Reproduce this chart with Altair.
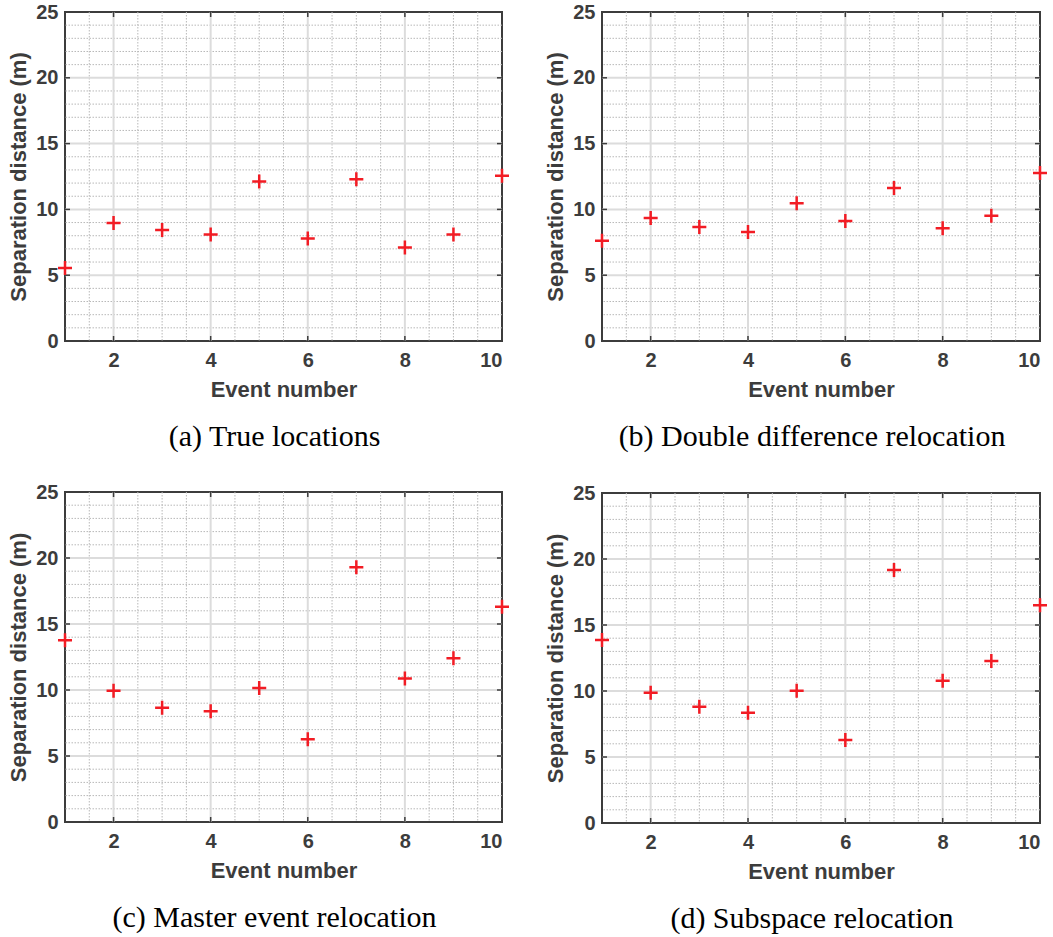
import altair as alt
import pandas as pd

# Event indices and separation distances (m) for each location method
events = [1, 2, 3, 4, 5, 6, 7, 8, 9, 10]
true_locations = [5.55, 8.97, 8.43, 8.10, 12.12, 7.78, 12.30, 7.10, 8.10, 12.55]
double_difference = [7.62, 9.35, 8.66, 8.28, 10.46, 9.12, 11.63, 8.56, 9.52, 12.77]
master_event = [13.76, 9.95, 8.66, 8.39, 10.15, 6.26, 19.30, 10.88, 12.40, 16.30]
subspace = [13.86, 9.87, 8.81, 8.36, 10.02, 6.29, 19.17, 10.78, 12.27, 16.50]

captions = [
    "(a) True locations",
    "(b) Double difference relocation",
    "(c) Master event relocation",
    "(d) Subspace relocation",
]

# Axis ticks and grid positions
x_ticks = [2, 4, 6, 8, 10]
y_ticks = [0, 5, 10, 15, 20, 25]
x_major_grid = [2, 4, 6, 8]
y_major_grid = [5, 10, 15, 20]
x_minor_grid = [1.5, 2.5, 3, 3.5, 4.5, 5, 5.5, 6.5, 7, 7.5, 8.5, 9, 9.5]
y_minor_grid = [1, 2, 3, 4, 6, 7, 8, 9, 11, 12, 13, 14, 16, 17, 18, 19, 21, 22, 23, 24]

X_DOMAIN = [1, 10]
Y_DOMAIN = [0, 25]

AXIS_GRAY = "#3c3c3c"
SANS = "Liberation Sans"
SERIF = "Liberation Serif"


def panel(values, caption, width, height):
    xs = alt.Scale(domain=X_DOMAIN, nice=False, zero=False)
    ys = alt.Scale(domain=Y_DOMAIN, nice=False)

    x_axis = alt.Axis(values=x_ticks, title="Event number", format="d",
                      labelPadding=9, titlePadding=9)
    y_axis = alt.Axis(values=y_ticks, title="Separation distance (m)", format="d",
                      labelPadding=7, titlePadding=5)

    def X(field):
        return alt.X(field, scale=xs, axis=x_axis)

    def Y(field):
        return alt.Y(field, scale=ys, axis=y_axis)

    pts = pd.DataFrame({"event": events, "dist": values})
    xmin = pd.DataFrame({"v": x_minor_grid})
    ymin = pd.DataFrame({"v": y_minor_grid})
    xmaj = pd.DataFrame({"v": x_major_grid})
    ymaj = pd.DataFrame({"v": y_major_grid})

    # tick tables: position along the axis and the edge of the box it sits on
    tb = pd.DataFrame({"v": x_major_grid, "e": Y_DOMAIN[0]})
    tt = pd.DataFrame({"v": x_major_grid, "e": Y_DOMAIN[1]})
    tl = pd.DataFrame({"v": y_major_grid, "e": X_DOMAIN[0]})
    tr = pd.DataFrame({"v": y_major_grid, "e": X_DOMAIN[1]})

    minor_x = alt.Chart(xmin).mark_rule(
        color="#b8b8b8", strokeWidth=1, strokeDash=[1.5, 1.5]
    ).encode(x=X("v:Q"))
    minor_y = alt.Chart(ymin).mark_rule(
        color="#b8b8b8", strokeWidth=1, strokeDash=[1.5, 1.5]
    ).encode(y=Y("v:Q"))
    major_x = alt.Chart(xmaj).mark_rule(color="#dcdcdc", strokeWidth=2).encode(x=X("v:Q"))
    major_y = alt.Chart(ymaj).mark_rule(color="#dcdcdc", strokeWidth=2).encode(y=Y("v:Q"))

    # inward tick marks on all four sides of the box
    tick_bottom = alt.Chart(tb).mark_rule(color=AXIS_GRAY, strokeWidth=1.5, y2Offset=-5).encode(
        x=X("v:Q"), y=Y("e:Q"), y2="e:Q")
    tick_top = alt.Chart(tt).mark_rule(color=AXIS_GRAY, strokeWidth=1.5, y2Offset=5).encode(
        x=X("v:Q"), y=Y("e:Q"), y2="e:Q")
    tick_left = alt.Chart(tl).mark_rule(color=AXIS_GRAY, strokeWidth=1.5, x2Offset=5).encode(
        y=Y("v:Q"), x=X("e:Q"), x2="e:Q")
    tick_right = alt.Chart(tr).mark_rule(color=AXIS_GRAY, strokeWidth=1.5, x2Offset=-5).encode(
        y=Y("v:Q"), x=X("e:Q"), x2="e:Q")

    marks = alt.Chart(pts).mark_point(
        shape="M-1,0L1,0M0,-1L0,1", size=196, strokeWidth=2.5,
        color="#f21c24", filled=False, opacity=1,
    ).encode(x=X("event:Q"), y=Y("dist:Q"))

    return alt.layer(
        minor_x, minor_y, major_x, major_y,
        tick_bottom, tick_top, tick_left, tick_right, marks,
    ).properties(
        width=width, height=height,
        title=alt.TitleParams(
            text=caption, orient="bottom", anchor="middle", frame="group",
            font=SERIF, fontSize=30, fontWeight="normal", color="#000000",
            offset=22, dx=-9,
        ),
    )


pa = panel(true_locations, captions[0], 437, 329)
pb = panel(double_difference, captions[1], 438, 329)
pc = panel(master_event, captions[2], 437, 330)
pd_ = panel(subspace, captions[3], 438, 330)

left_col = alt.vconcat(pa, pc, spacing=28)
right_col = alt.vconcat(pb, pd_, spacing=29)

chart = alt.hconcat(left_col, right_col, spacing=28).properties(
    padding={"left": 6, "top": 1, "right": 0, "bottom": 0},
    background="white",
).configure_view(
    stroke=AXIS_GRAY, strokeWidth=2,
).configure_axis(
    domain=False, ticks=False, grid=False,
    labelFont=SANS, labelFontWeight="bold", labelFontSize=20, labelColor=AXIS_GRAY,
    titleFont=SANS, titleFontWeight="bold", titleFontSize=22, titleColor=AXIS_GRAY,
)

chart.save("out.html", embed_options={"renderer": "svg", "actions": False})
